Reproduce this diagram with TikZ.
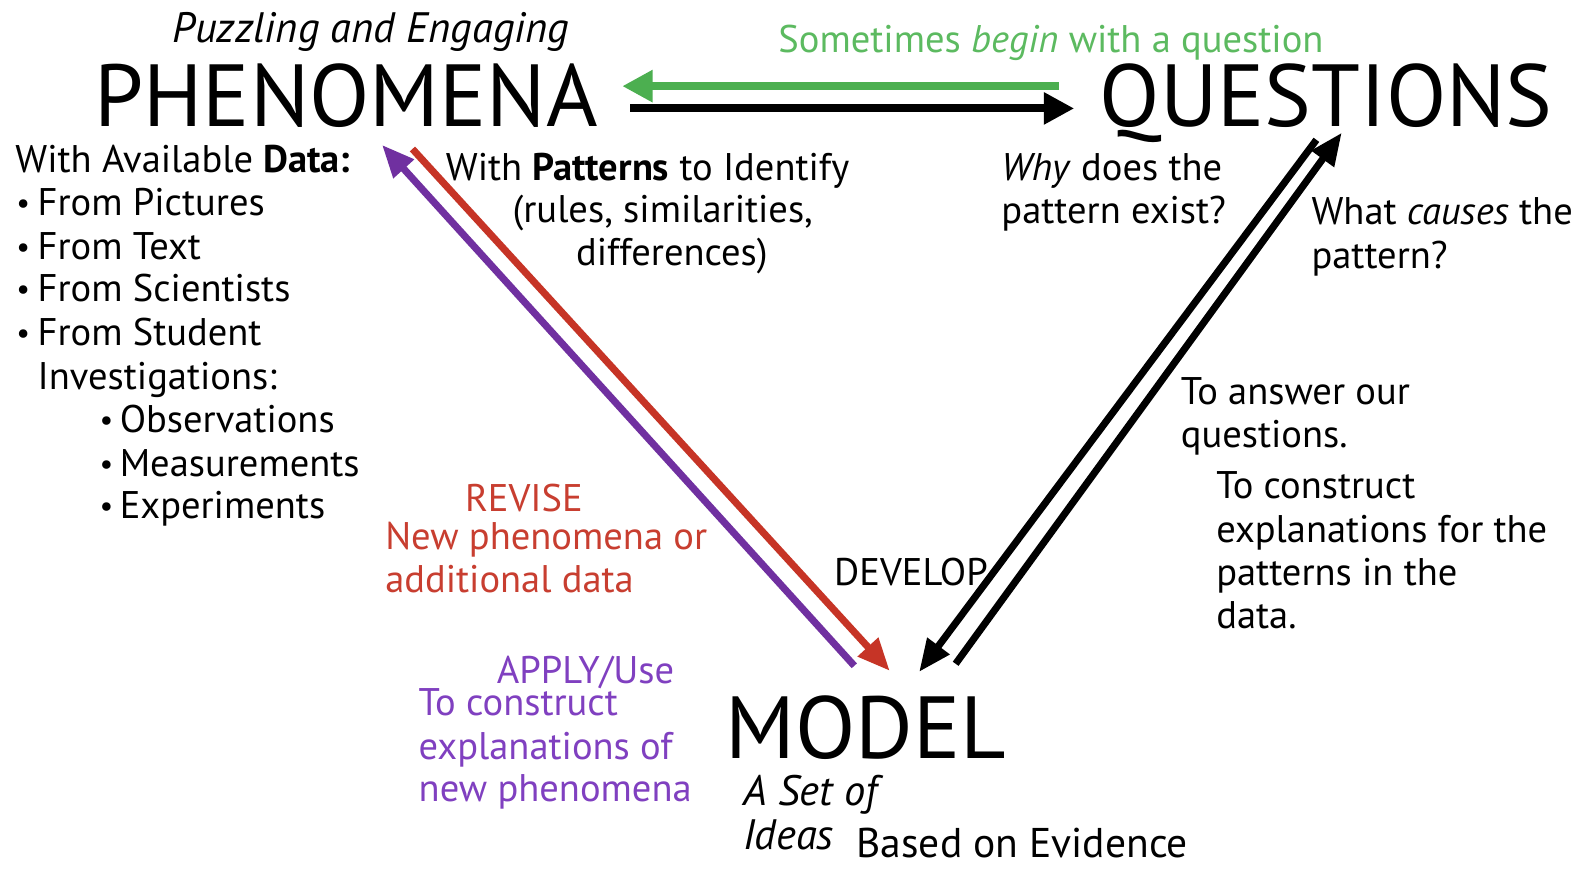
\documentclass[tikz,border=0pt]{standalone}
\usepackage{fontspec}
\setmainfont{PT Sans}
\usetikzlibrary{arrows.meta}
\definecolor{arrgreen}{RGB}{76,175,80}
\definecolor{txtgreen}{RGB}{92,186,96}
\definecolor{arrred}{RGB}{198,52,38}
\definecolor{txtred}{RGB}{200,62,48}
\definecolor{arrpurple}{RGB}{112,48,160}
\definecolor{txtpurple}{RGB}{128,64,192}
\newcommand{\listbullet}{\raisebox{2pt}{\fontsize{30}{30}\selectfont\textbullet}}
\tikzset{
  body/.style={inner sep=0pt, anchor=base west, font=\fontsize{38}{43}\selectfont},
  bodyc/.style={body, anchor=base},
  title/.style={inner sep=0pt, anchor=base west, font=\fontsize{87}{90}\selectfont},
  subtitle/.style={inner sep=0pt, anchor=base west, font=\fontsize{42}{43}\selectfont\itshape},
  flow/.style={line width=8pt, -{Triangle[length=30pt,width=30pt]}},
  diag/.style={line width=7pt, -{Triangle[length=32pt,width=26pt]}},
}
\begin{document}
\begin{tikzpicture}[x=1pt,y=-1pt]
\fill[white] (0,0) rectangle (1568,858);
\useasboundingbox (0,0) rectangle (1568,858);

% the three corners of the cycle
\node[subtitle, anchor=base] (puzz) at (366,42) {Puzzling and Engaging};
\node[title] (phen) at (93,125) {PHENOMENA};
\node[title] (ques) at (1085,125) {QUESTIONS};
\node[title] (model) at (716,748) {MODEL};

% phenomena <-> questions
\node[body, text=txtgreen] (begin) at (768,52) {Sometimes \textit{begin} with a question};
\coordinate (gA) at (1045,85);
\coordinate (gB) at (614,85);
\coordinate (kA) at (622,107);
\coordinate (kB) at (1060,107);
\draw[flow, arrgreen] (gA) -- (gB);
\draw[flow, black] (kA) -- (kB);

% data sources
\node[body] (d0) at (15,170) {With Available \textbf{Data:}};
\node[body] (b1) at (16,213) {\listbullet};
\node[body] (d1) at (37,213) {From Pictures};
\node[body] (b2) at (16,256) {\listbullet};
\node[body] (d2) at (37,256) {From Text};
\node[body] (b3) at (16,298) {\listbullet};
\node[body] (d3) at (37,298) {From Scientists};
\node[body] (b4) at (16,341) {\listbullet};
\node[body] (d4) at (37,341) {From Student};
\node[body] (d5) at (37,384) {Investigations:};
\node[body] (b6) at (98,427) {\listbullet};
\node[body] (d6) at (118,427) {Observations};
\node[body] (b7) at (98,470) {\listbullet};
\node[body] (d7) at (118,470) {Measurements};
\node[body] (b8) at (98,512) {\listbullet};
\node[body] (d8) at (118,512) {Experiments};

% patterns
\node[bodyc] (p1) at (639,178) {With \textbf{Patterns} to Identify};
\node[bodyc] (p2) at (654,220) {(rules, similarities,};
\node[bodyc] (p3) at (663,262) {differences)};

% questions
\node[body] (q1) at (988,178) {\textit{Why} does the};
\node[body] (q2) at (988,221) {pattern exist?};
\node[body] (q3) at (1294,222) {What \textit{causes} the};
\node[body] (q4) at (1294,265) {pattern?};

% develop side
\node[body] (a1) at (1165,399) {To answer our};
\node[body] (a2) at (1165,442) {questions.};
\node[body] (c1) at (1200,492) {To construct};
\node[body] (c2) at (1200,535) {explanations for the};
\node[body] (c3) at (1200,578) {patterns in the};
\node[body] (c4) at (1200,620) {data.};
\node[body] (dev) at (823,578) {DEVELOP};

\coordinate (dA) at (1299,138);
\coordinate (dB) at (907,663);
\coordinate (uA) at (943,655);
\coordinate (uB) at (1324,131);
\draw[diag, black] (dA) -- (dB);
\draw[diag, black] (uA) -- (uB);

% revise / apply side
\node[bodyc, text=txtred] (rev) at (517,505) {REVISE};
\node[body, text=txtred] (r1) at (380,542) {New phenomena or};
\node[body, text=txtred] (r2) at (380,585) {additional data};

\node[body, text=txtpurple] (app) at (490,674) {APPLY/Use};
\node[body, text=txtpurple] (u1) at (413,706) {To construct};
\node[body, text=txtpurple] (u2) at (413,749) {explanations of};
\node[body, text=txtpurple] (u3) at (413,791) {new phenomena};

\coordinate (pA) at (843,657);
\coordinate (pB) at (377,143);
\coordinate (rA) at (407,147);
\coordinate (rB) at (878,662);
\draw[diag, arrpurple] (pA) -- (pB);
\draw[diag, arrred] (rA) -- (rB);

% model caption
\node[subtitle] (set) at (733,795) {A Set of};
\node[subtitle] (ideas) at (733,838) {Ideas};
\node[body, font=\fontsize{41}{43}\selectfont] (evid) at (845,846) {Based on Evidence};
\end{tikzpicture}
\end{document}
